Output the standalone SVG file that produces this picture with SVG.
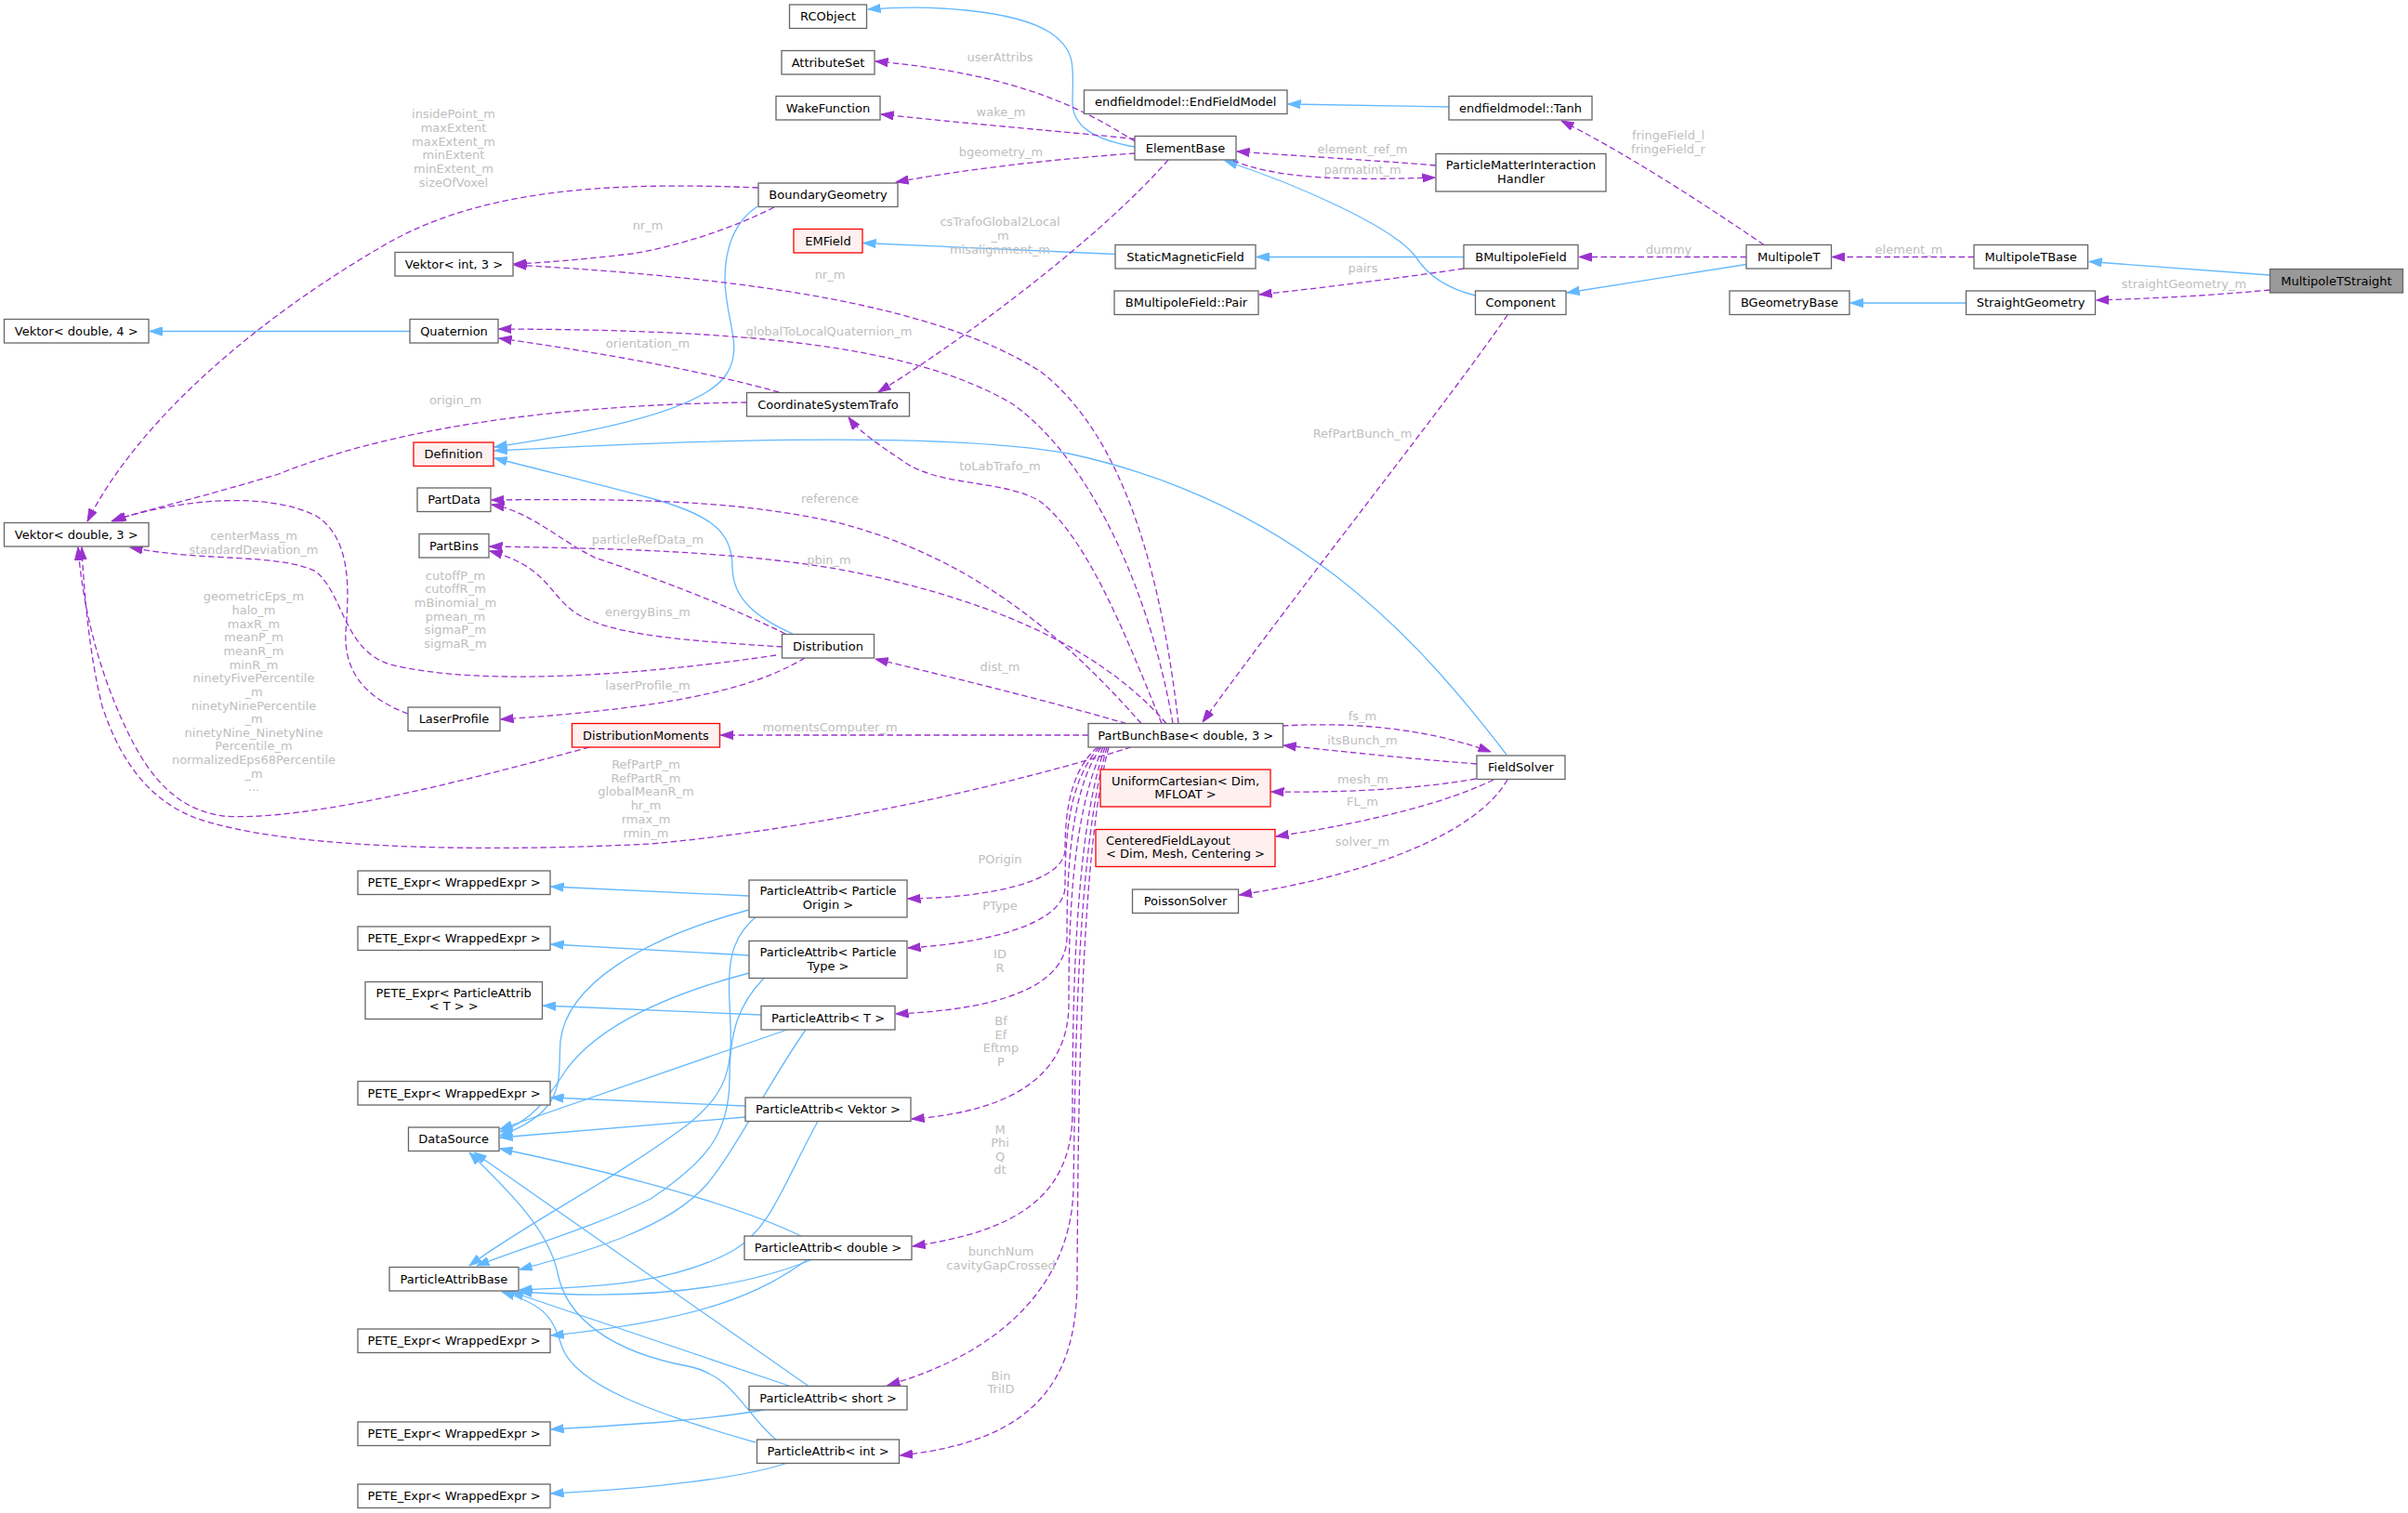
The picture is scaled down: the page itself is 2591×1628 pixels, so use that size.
<svg xmlns="http://www.w3.org/2000/svg" width="2591" height="1628" viewBox="0 0 2591 1628">
<style>
.n rect{fill:#fff;stroke:#666;stroke-width:1.3}
.n.red rect{fill:#fff0f0;stroke:#f00}
.n.root rect{fill:#999}
.n text{font-family:"DejaVu Sans",sans-serif;font-size:13px;fill:#000;text-anchor:middle}
.inh{fill:none;stroke:#63b8ff;stroke-width:1.3;marker-end:url(#ab)}
.use{fill:none;stroke:#9a32cd;stroke-width:1.3;stroke-dasharray:6.5,3.5;marker-end:url(#ap)}
.lbl{font-family:"DejaVu Sans",sans-serif;font-size:13px;fill:#bebebe;text-anchor:middle}
</style>
<defs>
<marker id="ab" viewBox="0 0 14 10" refX="13.5" refY="5" markerWidth="14" markerHeight="10" orient="auto" markerUnits="userSpaceOnUse"><path d="M0,0.4 L13.5,5 L0,9.6 z" fill="#63b8ff" stroke="#63b8ff" stroke-width="1"/></marker>
<marker id="ap" viewBox="0 0 14 10" refX="13.5" refY="5" markerWidth="14" markerHeight="10" orient="auto" markerUnits="userSpaceOnUse"><path d="M0,0.4 L13.5,5 L0,9.6 z" fill="#9a32cd" stroke="#9a32cd" stroke-width="1"/></marker>
</defs>
<rect width="2591" height="1628" fill="#fff"/>
<g id="edges">
<path class="inh" d="M2442.5,296 L2248,281.5"/>
<path class="inh" d="M2115.5,326 L1991,326"/>
<path class="inh" d="M1879,284.5 L1686,315"/>
<path class="inh" d="M1587.5,318 C1555,310 1535,295 1523,276 C1500,245 1400,200 1318,173"/>
<path class="inh" d="M1221,158 C1175,150 1154,135 1154,110 C1154,75 1160,55 1130,35 C1090,10 1000,5 934,10"/>
<path class="inh" d="M1200,273.5 L929,261.5"/>
<path class="inh" d="M1575,276.5 L1352,276.5"/>
<path class="inh" d="M1559,115 L1386,112"/>
<path class="inh" d="M441,356.5 L161,356.5"/>
<path class="inh" d="M815,222 C795,235 780,260 780,300 C780,345 802,375 780,405 C750,445 620,468 532,481"/>
<path class="inh" d="M1621,812 C1520,680 1390,540 1150,488 C1000,462 700,476 532,485"/>
<path class="inh" d="M853,682 C815,665 788,645 788,610 C788,575 770,555 700,536 C640,520 580,505 532,493"/>
<path class="inh" d="M806,964 L593,954"/>
<path class="inh" d="M806,1028 L593,1016"/>
<path class="inh" d="M819,1092 L584.5,1082"/>
<path class="inh" d="M802,1190 L593,1181"/>
<path class="inh" d="M868,1356 C820,1390 760,1420 593,1437"/>
<path class="inh" d="M822,1517 C760,1528 680,1533 593,1538"/>
<path class="inh" d="M846,1574.5 C800,1590 700,1602 593,1607"/>
<path class="inh" d="M806,979 C690,1010 610,1060 603,1120 C600,1160 612,1195 538,1222"/>
<path class="inh" d="M806,1047 C700,1075 640,1110 610,1150 C590,1180 575,1205 538,1218"/>
<path class="inh" d="M847,1108 L538,1215"/>
<path class="inh" d="M802,1202 L538,1224"/>
<path class="inh" d="M862,1330 C800,1300 700,1270 538,1236"/>
<path class="inh" d="M870,1491.5 L510,1240"/>
<path class="inh" d="M835,1549 C800,1520 790,1480 740,1470 C660,1455 610,1420 600,1370 C590,1320 540,1275 505,1240"/>
<path class="inh" d="M813,987 C785,1010 783,1040 785,1080 C788,1140 790,1170 740,1210 C660,1270 560,1320 505,1362"/>
<path class="inh" d="M822,1052.5 C795,1080 785,1110 785,1160 C785,1220 760,1250 700,1290 C640,1320 570,1340 513,1362"/>
<path class="inh" d="M867,1108 C830,1160 790,1240 760,1275 C720,1320 640,1345 559,1366"/>
<path class="inh" d="M880,1206.5 C840,1280 830,1320 790,1345 C720,1385 620,1385 559,1388"/>
<path class="inh" d="M872,1356 C800,1385 700,1400 559,1390"/>
<path class="inh" d="M850,1491.5 L550,1390"/>
<path class="inh" d="M813,1552 C700,1520 620,1490 605,1450 C595,1420 590,1405 540,1390"/>
<path class="use" d="M1228,778.5 C1150,690 1050,600 900,562 C800,540 700,536 529,538"/>
<path class="use" d="M1255,778.5 C1200,715 1100,650 900,612 C780,592 650,590 527,588"/>
<path class="use" d="M1212,778.5 C1120,752 1020,728 942,709"/>
<path class="use" d="M1250,778.5 C1210,680 1170,580 1120,540 C1080,515 1010,525 970,495 C945,478 925,465 913,449"/>
<path class="use" d="M1262,778.5 C1240,650 1180,500 1090,435 C980,370 800,355 537,354"/>
<path class="use" d="M1268,778.5 C1250,620 1210,470 1120,400 C1010,330 820,300 553,285"/>
<path class="use" d="M1217,804 C1100,840 900,890 700,908 C500,918 300,912 210,880 C160,860 130,820 110,760 C95,700 90,630 88,589"/>
<path class="use" d="M634,804 C520,835 330,885 240,878 C180,870 150,820 125,760 C100,700 88,640 84,589"/>
<path class="use" d="M1171,791 L775.5,791"/>
<path class="use" d="M1181,804 C1150,830 1146,880 1146,915 C1144,950 1060,966 977,967"/>
<path class="use" d="M1183,804 C1150,840 1146,900 1146,955 C1144,995 1060,1015 977,1020"/>
<path class="use" d="M1185,804 C1150,850 1148,950 1148,1010 C1146,1060 1080,1086 964,1091"/>
<path class="use" d="M1187,804 C1152,880 1150,1000 1150,1080 C1150,1150 1100,1195 981,1204"/>
<path class="use" d="M1189,804 C1155,900 1154,1100 1154,1200 C1152,1290 1090,1325 982,1341"/>
<path class="use" d="M1191,804 C1158,920 1157,1150 1155,1280 C1152,1380 1080,1455 955,1490.5"/>
<path class="use" d="M1193,804 C1162,920 1160,1200 1159,1380 C1158,1480 1120,1550 968.5,1566"/>
<path class="use" d="M1380,781 C1450,777 1530,782 1604,809"/>
<path class="use" d="M1589,822 C1500,815 1440,808 1381,802"/>
<path class="use" d="M1588,838 C1530,848 1460,853 1368,852"/>
<path class="use" d="M1607,839 C1560,862 1480,884 1373,900"/>
<path class="use" d="M1622,839 C1590,895 1480,940 1333.5,963"/>
<path class="use" d="M1622,339 C1560,430 1400,630 1294,777"/>
<path class="use" d="M1221,152 C1170,120 1100,80 942,66"/>
<path class="use" d="M1221,149.5 C1150,142 1050,134 948,123"/>
<path class="use" d="M1221,165 C1150,170 1050,180 964,196"/>
<path class="use" d="M1257,172 C1180,260 1030,370 945,422"/>
<path class="use" d="M1545,178 C1470,172 1400,168 1331,163"/>
<path class="use" d="M1327,173 C1370,190 1430,195 1544,191"/>
<path class="use" d="M1898,263.5 C1820,210 1740,160 1680,130"/>
<path class="use" d="M1879,276.5 L1699,276.5"/>
<path class="use" d="M1575,289 C1500,300 1420,310 1355,317"/>
<path class="use" d="M2124,276.5 L1971.5,276.5"/>
<path class="use" d="M2442.5,312 C2380,318 2320,321 2255.5,323"/>
<path class="use" d="M816,202 C650,195 520,205 420,260 C280,340 150,450 94,561"/>
<path class="use" d="M833,223 C790,245 730,265 680,273 C620,280 580,283 553,284"/>
<path class="use" d="M838,422 C760,400 650,380 537,364"/>
<path class="use" d="M803.5,433 C650,435 450,450 300,510 C200,540 150,550 120,561"/>
<path class="use" d="M845,682 C780,650 700,620 640,600 C600,580 570,550 529,543"/>
<path class="use" d="M842,696 C750,690 660,685 620,660 C590,640 590,610 527,593"/>
<path class="use" d="M866,708 C820,735 750,760 539,774"/>
<path class="use" d="M835,705 C700,725 520,740 420,715 C370,700 370,640 340,615 C300,595 220,605 140,589"/>
<path class="use" d="M439,768 C390,750 370,720 372,680 C375,640 380,580 340,555 C290,530 200,535 122,560"/>
<g class="lbl">
<text class="lbl" x="1076" y="65.5">userAttribs</text>
<text class="lbl" x="1077" y="124.5">wake_m</text>
<text class="lbl" x="1077" y="167.5">bgeometry_m</text>
<text class="lbl" x="1466" y="164.5">element_ref_m</text>
<text class="lbl" x="1466" y="187">parmatint_m</text>
<text class="lbl" x="1795" y="149.8">fringeField_l<tspan x="1795" dy="15">fringeField_r</tspan></text>
<text class="lbl" x="488" y="127.3">insidePoint_m<tspan x="488" dy="14.65">maxExtent</tspan><tspan x="488" dy="14.65">maxExtent_m</tspan><tspan x="488" dy="14.65">minExtent</tspan><tspan x="488" dy="14.65">minExtent_m</tspan><tspan x="488" dy="14.65">sizeOfVoxel</tspan></text>
<text class="lbl" x="697" y="246.5">nr_m</text>
<text class="lbl" x="1076" y="242.5">csTrafoGlobal2Local<tspan x="1076" dy="15">_m</tspan><tspan x="1076" dy="15">misalignment_m</tspan></text>
<text class="lbl" x="1795.5" y="273">dummy</text>
<text class="lbl" x="2054" y="272.5">element_m</text>
<text class="lbl" x="1466.5" y="293">pairs</text>
<text class="lbl" x="893" y="299.5">nr_m</text>
<text class="lbl" x="2350" y="310">straightGeometry_m</text>
<text class="lbl" x="892" y="360.5">globalToLocalQuaternion_m</text>
<text class="lbl" x="697" y="374">orientation_m</text>
<text class="lbl" x="490" y="434.5">origin_m</text>
<text class="lbl" x="1466" y="471">RefPartBunch_m</text>
<text class="lbl" x="1076" y="505.5">toLabTrafo_m</text>
<text class="lbl" x="893" y="540.5">reference</text>
<text class="lbl" x="273" y="581">centerMass_m<tspan x="273" dy="14.5">standardDeviation_m</tspan></text>
<text class="lbl" x="697" y="584.5">particleRefData_m</text>
<text class="lbl" x="892" y="607">pbin_m</text>
<text class="lbl" x="490" y="623.5">cutoffP_m<tspan x="490" dy="14.7">cutoffR_m</tspan><tspan x="490" dy="14.7">mBinomial_m</tspan><tspan x="490" dy="14.7">pmean_m</tspan><tspan x="490" dy="14.7">sigmaP_m</tspan><tspan x="490" dy="14.7">sigmaR_m</tspan></text>
<text class="lbl" x="273" y="646.3">geometricEps_m<tspan x="273" dy="14.65">halo_m</tspan><tspan x="273" dy="14.65">maxR_m</tspan><tspan x="273" dy="14.65">meanP_m</tspan><tspan x="273" dy="14.65">meanR_m</tspan><tspan x="273" dy="14.65">minR_m</tspan><tspan x="273" dy="14.65">ninetyFivePercentile</tspan><tspan x="273" dy="14.65">_m</tspan><tspan x="273" dy="14.65">ninetyNinePercentile</tspan><tspan x="273" dy="14.65">_m</tspan><tspan x="273" dy="14.65">ninetyNine_NinetyNine</tspan><tspan x="273" dy="14.65">Percentile_m</tspan><tspan x="273" dy="14.65">normalizedEps68Percentile</tspan><tspan x="273" dy="14.65">_m</tspan><tspan x="273" dy="14.65">...</tspan></text>
<text class="lbl" x="697" y="663">energyBins_m</text>
<text class="lbl" x="1076" y="722">dist_m</text>
<text class="lbl" x="697" y="742">laserProfile_m</text>
<text class="lbl" x="1466" y="775">fs_m</text>
<text class="lbl" x="893" y="787.3">momentsComputer_m</text>
<text class="lbl" x="1466" y="800.5">itsBunch_m</text>
<text class="lbl" x="695" y="827">RefPartP_m<tspan x="695" dy="14.7">RefPartR_m</tspan><tspan x="695" dy="14.7">globalMeanR_m</tspan><tspan x="695" dy="14.7">hr_m</tspan><tspan x="695" dy="14.7">rmax_m</tspan><tspan x="695" dy="14.7">rmin_m</tspan></text>
<text class="lbl" x="1466.5" y="843">mesh_m</text>
<text class="lbl" x="1466" y="867.3">FL_m</text>
<text class="lbl" x="1466" y="910">solver_m</text>
<text class="lbl" x="1076" y="928.8">POrigin</text>
<text class="lbl" x="1076" y="979">PType</text>
<text class="lbl" x="1076" y="1031.2">ID<tspan x="1076" dy="15">R</tspan></text>
<text class="lbl" x="1077" y="1103">Bf<tspan x="1077" dy="14.7">Ef</tspan><tspan x="1077" dy="14.7">Eftmp</tspan><tspan x="1077" dy="14.7">P</tspan></text>
<text class="lbl" x="1076" y="1219.5">M<tspan x="1076" dy="14.6">Phi</tspan><tspan x="1076" dy="14.6">Q</tspan><tspan x="1076" dy="14.6">dt</tspan></text>
<text class="lbl" x="1077" y="1351.4">bunchNum<tspan x="1077" dy="14.5">cavityGapCrossed</tspan></text>
<text class="lbl" x="1077" y="1484.5">Bin<tspan x="1077" dy="14.5">TriID</tspan></text>
</g>
</g>
<g id="MultipoleTStraight" class="n root"><rect x="2442.5" y="289.5" width="143" height="25.5"/><text x="2514" y="306.8">MultipoleTStraight</text></g>
<g id="MultipoleTBase" class="n"><rect x="2124" y="263.5" width="122.5" height="25.5"/><text x="2185.2" y="280.8">MultipoleTBase</text></g>
<g id="StraightGeometry" class="n"><rect x="2115.5" y="313" width="139" height="25.5"/><text x="2185" y="330.3">StraightGeometry</text></g>
<g id="MultipoleT" class="n"><rect x="1879" y="263.5" width="91.5" height="25.5"/><text x="1924.7" y="280.8">MultipoleT</text></g>
<g id="BGeometryBase" class="n"><rect x="1861" y="313" width="129" height="25.5"/><text x="1925.5" y="330.3">BGeometryBase</text></g>
<g id="Tanh" class="n"><rect x="1559" y="103.5" width="154" height="25.5"/><text x="1636" y="120.8">endfieldmodel::Tanh</text></g>
<g id="PMIH" class="n"><rect x="1545" y="165.5" width="183" height="40.5"/><text x="1636.5" y="182">ParticleMatterInteraction</text><text x="1636.5" y="196.5">Handler</text></g>
<g id="BMultipoleField" class="n"><rect x="1575" y="263.5" width="123" height="25.5"/><text x="1636.5" y="280.8">BMultipoleField</text></g>
<g id="Component" class="n"><rect x="1587.5" y="313" width="97.5" height="25.5"/><text x="1636.2" y="330.3">Component</text></g>
<g id="EndFieldModel" class="n"><rect x="1166.5" y="97" width="218.5" height="25.5"/><text x="1275.7" y="114.3">endfieldmodel::EndFieldModel</text></g>
<g id="ElementBase" class="n"><rect x="1221" y="146.5" width="109" height="25.5"/><text x="1275.5" y="163.8">ElementBase</text></g>
<g id="StaticMagneticField" class="n"><rect x="1200" y="263.5" width="151" height="25.5"/><text x="1275.5" y="280.8">StaticMagneticField</text></g>
<g id="BMultipoleFieldPair" class="n"><rect x="1199" y="313" width="155" height="25.5"/><text x="1276.5" y="330.3">BMultipoleField::Pair</text></g>
<g id="RCObject" class="n"><rect x="849.5" y="5" width="83" height="25.5"/><text x="891" y="22.3">RCObject</text></g>
<g id="AttributeSet" class="n"><rect x="841" y="54.5" width="100" height="25.5"/><text x="891" y="71.8">AttributeSet</text></g>
<g id="WakeFunction" class="n"><rect x="835" y="103.5" width="112" height="25.5"/><text x="891" y="120.8">WakeFunction</text></g>
<g id="BoundaryGeometry" class="n"><rect x="816" y="197" width="150" height="25.5"/><text x="891" y="214.3">BoundaryGeometry</text></g>
<g id="EMField" class="n red"><rect x="854" y="246.5" width="74" height="25.5"/><text x="891" y="263.8">EMField</text></g>
<g id="CoordinateSystemTrafo" class="n"><rect x="803.5" y="422.5" width="175" height="25.5"/><text x="891" y="439.8">CoordinateSystemTrafo</text></g>
<g id="VektorInt3" class="n"><rect x="425" y="271.5" width="127" height="25.5"/><text x="488.5" y="288.8">Vektor&lt; int, 3 &gt;</text></g>
<g id="VektorDouble4" class="n"><rect x="4.5" y="343.5" width="155.5" height="25.5"/><text x="82.2" y="360.8">Vektor&lt; double, 4 &gt;</text></g>
<g id="Quaternion" class="n"><rect x="441" y="343.5" width="95" height="25.5"/><text x="488.5" y="360.8">Quaternion</text></g>
<g id="Definition" class="n red"><rect x="445" y="476" width="86" height="25.5"/><text x="488" y="493.3">Definition</text></g>
<g id="PartData" class="n"><rect x="449" y="525" width="79" height="25.5"/><text x="488.5" y="542.3">PartData</text></g>
<g id="PartBins" class="n"><rect x="451" y="574.5" width="75" height="25.5"/><text x="488.5" y="591.8">PartBins</text></g>
<g id="VektorDouble3" class="n"><rect x="4.5" y="562.5" width="155.5" height="25.5"/><text x="82.2" y="579.8">Vektor&lt; double, 3 &gt;</text></g>
<g id="Distribution" class="n"><rect x="841.5" y="682.5" width="99" height="25.5"/><text x="891" y="699.8">Distribution</text></g>
<g id="LaserProfile" class="n"><rect x="439" y="761" width="99" height="25.5"/><text x="488.5" y="778.3">LaserProfile</text></g>
<g id="DistributionMoments" class="n red"><rect x="615.5" y="778.5" width="159" height="25.5"/><text x="695" y="795.8">DistributionMoments</text></g>
<g id="PartBunchBase" class="n"><rect x="1171" y="778.5" width="209.5" height="25.5"/><text x="1275.7" y="795.8">PartBunchBase&lt; double, 3 &gt;</text></g>
<g id="FieldSolver" class="n"><rect x="1589" y="813" width="95" height="25.5"/><text x="1636.5" y="830.3">FieldSolver</text></g>
<g id="UniformCartesian" class="n red"><rect x="1184" y="828" width="183" height="40"/><text x="1275.5" y="844.5">UniformCartesian&lt; Dim,</text><text x="1275.5" y="859">MFLOAT &gt;</text></g>
<g id="CenteredFieldLayout" class="n red"><rect x="1179" y="892.5" width="193" height="40"/><text x="1190" y="909" style="text-anchor:start">CenteredFieldLayout</text><text x="1275.5" y="923">&lt; Dim, Mesh, Centering &gt;</text></g>
<g id="PoissonSolver" class="n"><rect x="1218.5" y="957" width="114" height="25.5"/><text x="1275.5" y="974.3">PoissonSolver</text></g>
<g id="PETE_a" class="n"><rect x="385" y="937" width="207" height="25.5"/><text x="488.5" y="954.3">PETE_Expr&lt; WrappedExpr &gt;</text></g>
<g id="PETE_b" class="n"><rect x="385" y="997" width="207" height="25.5"/><text x="488.5" y="1014.3">PETE_Expr&lt; WrappedExpr &gt;</text></g>
<g id="PETE_PAT" class="n"><rect x="393" y="1056.5" width="190.5" height="40"/><text x="488.2" y="1072.5">PETE_Expr&lt; ParticleAttrib</text><text x="488.2" y="1087">&lt; T &gt; &gt;</text></g>
<g id="PETE_c" class="n"><rect x="385" y="1163.5" width="207" height="25.5"/><text x="488.5" y="1180.8">PETE_Expr&lt; WrappedExpr &gt;</text></g>
<g id="DataSource" class="n"><rect x="439.5" y="1213" width="97.5" height="25.5"/><text x="488.2" y="1230.3">DataSource</text></g>
<g id="ParticleAttribBase" class="n"><rect x="419" y="1363.5" width="139" height="25.5"/><text x="488.5" y="1380.8">ParticleAttribBase</text></g>
<g id="PETE_d" class="n"><rect x="385" y="1430" width="207" height="25.5"/><text x="488.5" y="1447.3">PETE_Expr&lt; WrappedExpr &gt;</text></g>
<g id="PETE_e" class="n"><rect x="385" y="1530" width="207" height="25.5"/><text x="488.5" y="1547.3">PETE_Expr&lt; WrappedExpr &gt;</text></g>
<g id="PETE_f" class="n"><rect x="385" y="1597" width="207" height="25.5"/><text x="488.5" y="1614.3">PETE_Expr&lt; WrappedExpr &gt;</text></g>
<g id="PA_Origin" class="n"><rect x="806" y="947" width="170" height="40"/><text x="891" y="963">ParticleAttrib&lt; Particle</text><text x="891" y="978">Origin &gt;</text></g>
<g id="PA_Type" class="n"><rect x="806" y="1012.5" width="170" height="40"/><text x="891" y="1028.5">ParticleAttrib&lt; Particle</text><text x="891" y="1043.5">Type &gt;</text></g>
<g id="PA_T" class="n"><rect x="819" y="1082.5" width="144" height="25.5"/><text x="891" y="1099.8">ParticleAttrib&lt; T &gt;</text></g>
<g id="PA_Vektor" class="n"><rect x="802" y="1181" width="178" height="25.5"/><text x="891" y="1198.3">ParticleAttrib&lt; Vektor &gt;</text></g>
<g id="PA_double" class="n"><rect x="801" y="1330" width="180" height="25.5"/><text x="891" y="1347.3">ParticleAttrib&lt; double &gt;</text></g>
<g id="PA_short" class="n"><rect x="806" y="1491.5" width="170" height="25.5"/><text x="891" y="1508.8">ParticleAttrib&lt; short &gt;</text></g>
<g id="PA_int" class="n"><rect x="814.5" y="1549" width="153" height="25.5"/><text x="891" y="1566.3">ParticleAttrib&lt; int &gt;</text></g>
</svg>
